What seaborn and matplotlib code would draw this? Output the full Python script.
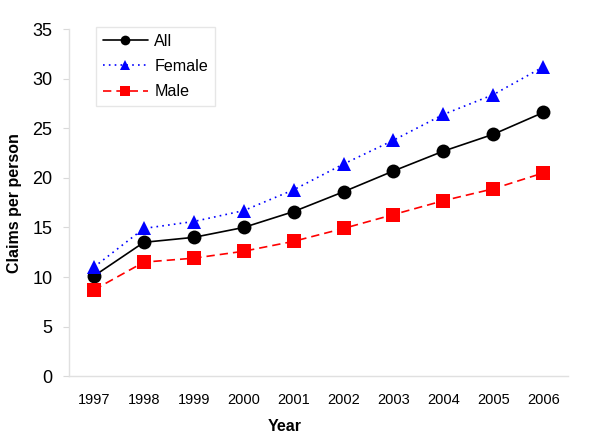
import matplotlib
matplotlib.use('Agg')
import matplotlib.pyplot as plt
import pandas as pd
import seaborn as sns

# values
years = [1997, 1998, 1999, 2000, 2001, 2002, 2003, 2004, 2005, 2006]
all_claims = [10.1, 13.5, 14.0, 15.0, 16.6, 18.6, 20.7, 22.7, 24.4, 26.6]
female_claims = [11.0, 14.9, 15.6, 16.7, 18.8, 21.4, 23.8, 26.4, 28.4, 31.2]
male_claims = [8.7, 11.5, 11.9, 12.6, 13.6, 14.9, 16.3, 17.7, 18.9, 20.5]
series = ['All', 'Female', 'Male']

df = pd.concat([
    pd.DataFrame({'Year': years, 'Claims per person': all_claims, 'group': 'All'}),
    pd.DataFrame({'Year': years, 'Claims per person': female_claims, 'group': 'Female'}),
    pd.DataFrame({'Year': years, 'Claims per person': male_claims, 'group': 'Male'}),
])

sns.set_style('white')
plt.rcParams['font.family'] = ['Liberation Sans', 'DejaVu Sans']
plt.rcParams['text.color'] = 'black'
plt.rcParams['axes.labelcolor'] = 'black'
plt.rcParams['xtick.color'] = 'black'
plt.rcParams['ytick.color'] = 'black'

fig = plt.figure(figsize=(6, 4.43), dpi=100)
ax = fig.add_axes([0.115, 0.151, 0.832, 0.783])

palette = {'All': 'black', 'Female': '#0000ff', 'Male': '#ff0000'}
markers = {'All': 'o', 'Female': '^', 'Male': 's'}
dashes = {'All': '', 'Female': (1, 2.5), 'Male': (5, 3)}

sns.lineplot(data=df, x='Year', y='Claims per person', hue='group', style='group',
             hue_order=series, style_order=series, palette=palette,
             markers=markers, dashes=dashes, markersize=10, markeredgewidth=0,
             linewidth=1.2, ax=ax)

ax.set_xlim(1996.5, 2006.5)
ax.set_ylim(0, 35)
ax.set_xticks(years)
ax.set_yticks(range(0, 36, 5))
ax.tick_params(axis='y', labelsize=13, length=4, color='#d9d9d9', labelcolor='black',
               pad=8, left=True)
ax.tick_params(axis='x', labelsize=10.5, length=0, labelcolor='black', pad=12)

for side in ['top', 'right']:
    ax.spines[side].set_visible(False)
for side in ['left', 'bottom']:
    ax.spines[side].set_color('#e0e0e0')
    ax.spines[side].set_linewidth(1)

ax.set_xlabel('Year', fontsize=11.5, fontweight='bold', color='black')
ax.set_ylabel('Claims per person', fontsize=11.5, fontweight='bold', color='black')
ax.xaxis.set_label_coords(0.433, -0.125)
ax.yaxis.set_label_coords(-0.094, 0.5)

handles, labels = ax.get_legend_handles_labels()
leg = ax.legend(handles, labels, loc='upper left', bbox_to_anchor=(0.054, 1.007),
                borderaxespad=0, fontsize=11.6, handlelength=2.8, markerscale=0.7,
                frameon=True, fancybox=False, edgecolor='#e0e0e0', borderpad=0.42,
                labelspacing=0.64, handletextpad=0.4)
leg.get_frame().set_linewidth(1)

fig.savefig('out.png', dpi=100)
